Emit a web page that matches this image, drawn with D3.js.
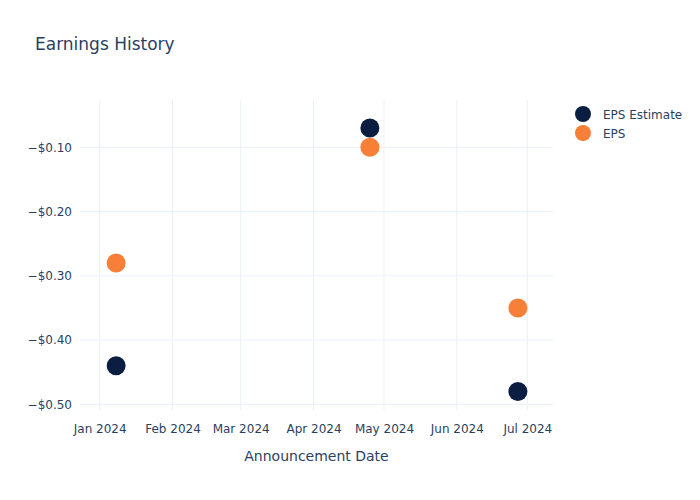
<!DOCTYPE html>
<html>
<head>
<meta charset="utf-8">
<script src="https://cdn.jsdelivr.net/npm/d3@7"></script>
<style>
  html, body { margin: 0; padding: 0; background: #fff; }
  svg { display: block; font-family: "DejaVu Sans", Verdana, sans-serif; }
</style>
</head>
<body>
<svg id="chart" width="700" height="500"></svg>
<script>
const dates = ["2024-01-08", "2024-04-25", "2024-06-27"];
const epsEstimate = [-0.44, -0.07, -0.48];
const epsActual = [-0.28, -0.10, -0.35];
const yTicks = [-0.10, -0.20, -0.30, -0.40, -0.50];
const xTicks = ["2024-01-01", "2024-02-01", "2024-03-01", "2024-04-01", "2024-05-01", "2024-06-01", "2024-07-01"];
const seriesNames = ["EPS Estimate", "EPS"];
const seriesColors = ["#0b1e41", "#f77f37"];

const parse = d3.utcParse("%Y-%m-%d");
const svg = d3.select("#chart");
const textColor = "#2a3f5f";
const gridColor = "#ebf0f8";
const font = '"DejaVu Sans", Verdana, sans-serif';

const plot = { left: 80, right: 553, top: 100, bottom: 410 };

const x = d3.scaleUtc()
  .domain([parse("2024-01-01"), parse("2024-07-01")])
  .range([99.7, 527.3]);
const y = d3.scaleLinear()
  .domain([-0.10, -0.50])
  .range([147.3, 404.3]);

// gridlines
svg.append("g").selectAll("line").data(xTicks).join("line")
  .attr("x1", d => x(parse(d))).attr("x2", d => x(parse(d)))
  .attr("y1", plot.top).attr("y2", plot.bottom)
  .attr("stroke", gridColor).attr("stroke-width", 1);
svg.append("g").selectAll("line").data(yTicks).join("line")
  .attr("x1", plot.left).attr("x2", plot.right)
  .attr("y1", d => y(d)).attr("y2", d => y(d))
  .attr("stroke", gridColor).attr("stroke-width", 1);

// axes
const fmtY = v => "\u2212$" + Math.abs(v).toFixed(2);
const yAxis = d3.axisLeft(y).tickValues(yTicks).tickFormat(fmtY).tickSize(0).tickPadding(8);
const gy = svg.append("g").attr("transform", `translate(${plot.left},0)`).call(yAxis)
  .attr("font-family", font).attr("font-size", 12);
gy.select(".domain").remove();
gy.selectAll("text").attr("fill", textColor);

const xAxis = d3.axisBottom(x).tickValues(xTicks.map(parse)).tickFormat(d3.utcFormat("%b %Y")).tickSize(0).tickPadding(14);
const gx = svg.append("g").attr("transform", `translate(0,${plot.bottom})`).call(xAxis)
  .attr("font-family", font).attr("font-size", 12);
gx.select(".domain").remove();
gx.selectAll("text").attr("fill", textColor);

// points
const seriesData = [epsEstimate, epsActual];
seriesData.forEach((vals, si) => {
  svg.append("g").selectAll("circle").data(vals).join("circle")
    .attr("cx", (d, i) => x(parse(dates[i])))
    .attr("cy", d => y(d))
    .attr("r", 9.5)
    .attr("fill", seriesColors[si]);
});

// title
svg.append("text").attr("x", 35).attr("y", 50)
  .attr("fill", textColor).style("font-size", "17px").text("Earnings History");

// x label
svg.append("text").attr("x", (plot.left + plot.right) / 2).attr("y", 461)
  .attr("text-anchor", "middle").attr("fill", textColor).style("font-size", "14px")
  .text("Announcement Date");

// legend
const leg = svg.append("g");
seriesNames.forEach((n, i) => {
  const yy = 114 + i * 19;
  leg.append("circle").attr("cx", 583).attr("cy", yy).attr("r", 8).attr("fill", seriesColors[i]);
  leg.append("text").attr("x", 603).attr("y", yy + 4.5).attr("fill", textColor)
    .style("font-size", "12px").text(n);
});
</script>
</body>
</html>
